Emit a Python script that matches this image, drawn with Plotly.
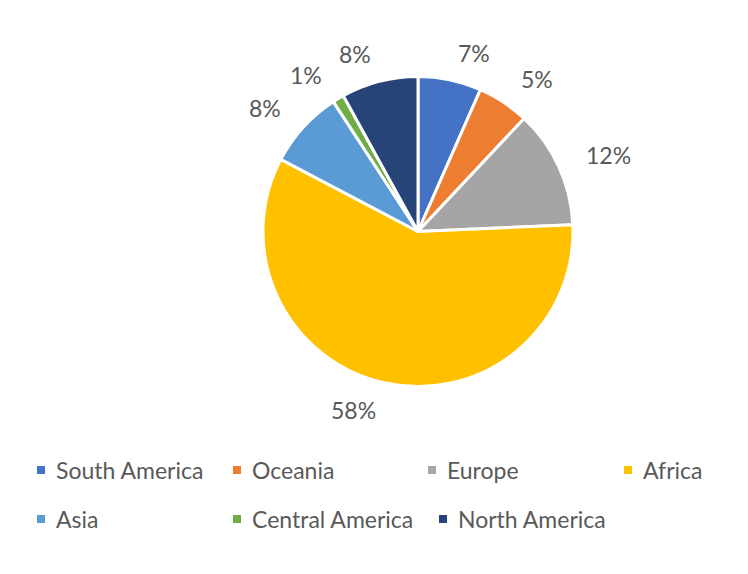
import math
import plotly.graph_objects as go

categories = ["South America", "Oceania", "Europe", "Africa", "Asia", "Central America", "North America"]
# shares (%); the labels show them rounded
shares = [6.6, 5.4, 12.3, 58.4, 8.1, 1.2, 8.0]
colors = ["#4472C4", "#ED7D31", "#A5A5A5", "#FFC000", "#5B9BD5", "#70AD47", "#264478"]

# ---- layout (screen pixels, top-left origin) ----
PAGE_MARGIN = 8                      # default <body> margin of the html page
W, H = 748 - PAGE_MARGIN, 574 - PAGE_MARGIN
CX, CY, R = 418, 231.5, 155          # pie centre and radius on screen
LABEL_R = 1.18                       # data-label anchor distance, in radii
legend_pos = [(41, 470), (237, 470), (432, 470), (628, 470),
              (41, 519), (237, 519), (443, 519)]   # square centres on screen
FONT = "Lato"
TXT = "#595959"


def fx(px):
    return (px - PAGE_MARGIN) / W


def fy(py):
    return 1 - (py - PAGE_MARGIN) / H


fig = go.Figure(go.Pie(
    labels=categories,
    values=shares,
    marker=dict(colors=colors, line=dict(color="white", width=3)),
    sort=False,
    direction="clockwise",
    rotation=0,
    textinfo="none",
    hovertemplate="%{label}: %{value:.0f}%<extra></extra>",
    showlegend=False,
    domain=dict(x=[fx(CX - R), fx(CX + R)], y=[fy(CY + R), fy(CY - R)]),
))

annotations = []
shapes = []

# data labels outside each slice's mid-angle (clockwise from 12 o'clock)
total = sum(shares)
cum = 0
for v in shares:
    mid = (cum + v / 2) / total * 2 * math.pi
    cum += v
    ux, uy = math.sin(mid), -math.cos(mid)
    px = CX + LABEL_R * R * ux
    py = CY + LABEL_R * R * uy
    annotations.append(dict(
        x=fx(px), y=fy(py), xref="paper", yref="paper",
        xanchor="left" if ux >= 0 else "right", yanchor="middle", showarrow=False,
        text=f"{round(v)}%", font=dict(family=FONT, size=23, color=TXT),
    ))

# legend: coloured squares + names
SQ = 8
for (px, py), name, col in zip(legend_pos, categories, colors):
    shapes.append(dict(
        type="rect", xref="paper", yref="paper",
        x0=fx(px - SQ / 2), x1=fx(px + SQ / 2),
        y0=fy(py + SQ / 2), y1=fy(py - SQ / 2),
        fillcolor=col, line=dict(width=0),
    ))
    annotations.append(dict(
        x=fx(px + 13), y=fy(py), xref="paper", yref="paper",
        xanchor="left", yanchor="middle", showarrow=False,
        text=name, font=dict(family=FONT, size=23, color=TXT),
    ))

fig.update_layout(
    width=W, height=H,
    margin=dict(l=0, r=0, t=0, b=0),
    paper_bgcolor="white", plot_bgcolor="white",
    annotations=annotations, shapes=shapes,
)

fig.write_html("out.html")
